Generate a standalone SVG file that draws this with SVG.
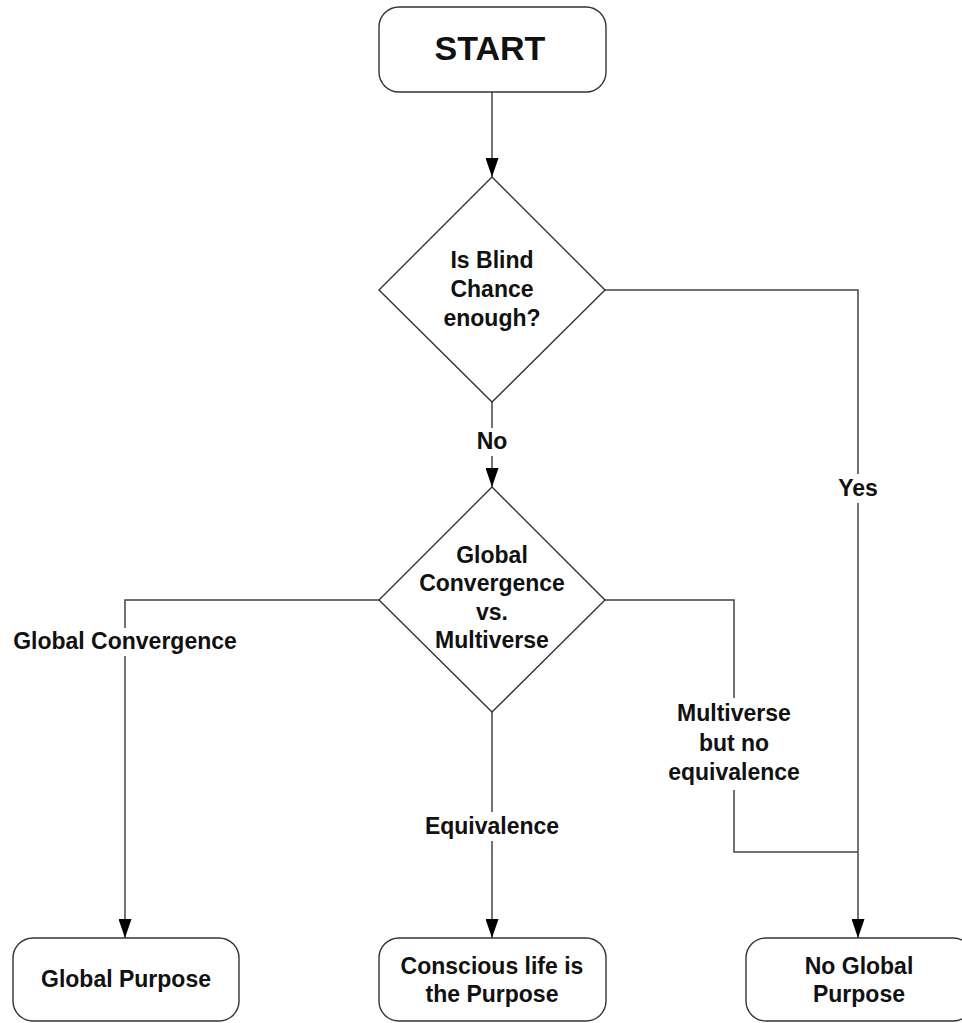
<svg xmlns="http://www.w3.org/2000/svg" width="962" height="1023" viewBox="0 0 962 1023">
<defs>
<style>
.box{fill:#fff;stroke:#333;stroke-width:1.4}
.ln{fill:none;stroke:#444;stroke-width:1.5}
text{font-family:"Liberation Sans",Arial,sans-serif;font-weight:bold;fill:#111;text-anchor:middle;font-size:23px}
.big{font-size:34px}
</style>
<marker id="arr" viewBox="0 0 19 13" refX="19" refY="6.5" markerWidth="19" markerHeight="13" markerUnits="userSpaceOnUse" orient="auto">
<path d="M0,0 L19,6.5 L0,13 Z" fill="#000"/>
</marker>
</defs>
<rect width="962" height="1023" fill="#fff"/>
<g id="connectors">
<path class="ln" d="M492,92 V177" marker-end="url(#arr)"/>
<path class="ln" d="M492,402 V428"/>
<path class="ln" d="M492,456 V487" marker-end="url(#arr)"/>
<path class="ln" d="M605,290 H858 V474"/>
<path class="ln" d="M858,503 V938" marker-end="url(#arr)"/>
<path class="ln" d="M379,600 H125 V628"/>
<path class="ln" d="M125,656 V938" marker-end="url(#arr)"/>
<path class="ln" d="M492,712 V812"/>
<path class="ln" d="M492,841 V938" marker-end="url(#arr)"/>
<path class="ln" d="M605,600 H734 V698"/>
<path class="ln" d="M734,790 V852 H858"/>
<text x="492" y="449">No</text>
<text x="858" y="496">Yes</text>
<text x="125" y="649">Global Convergence</text>
<text x="492" y="834">Equivalence</text>
<text x="734" y="721">Multiverse</text>
<text x="734" y="751">but no</text>
<text x="734" y="780">equivalence</text>
</g>
<g id="start">
<rect class="box" x="379" y="7" width="227" height="85" rx="20"/>
<text class="big" x="490" y="60">START</text>
</g>
<g id="blind-chance">
<polygon class="box" points="492,177 605,290 492,402 379,290"/>
<text x="492" y="268">Is Blind</text>
<text x="492" y="297">Chance</text>
<text x="492" y="326">enough?</text>
</g>
<g id="convergence-vs-multiverse">
<polygon class="box" points="492,487 605,600 492,712 379,600"/>
<text x="492" y="563">Global</text>
<text x="492" y="591">Convergence</text>
<text x="492" y="620">vs.</text>
<text x="492" y="648">Multiverse</text>
</g>
<g id="global-purpose">
<rect class="box" x="13" y="938" width="226" height="83" rx="20"/>
<text x="126" y="987">Global Purpose</text>
</g>
<g id="conscious-life">
<rect class="box" x="379" y="938" width="227" height="83" rx="20"/>
<text x="492" y="974">Conscious life is</text>
<text x="492" y="1002">the Purpose</text>
</g>
<g id="no-global-purpose">
<rect class="box" x="746" y="938" width="227" height="83" rx="20"/>
<text x="859" y="974">No Global</text>
<text x="859" y="1002">Purpose</text>
</g>
</svg>
